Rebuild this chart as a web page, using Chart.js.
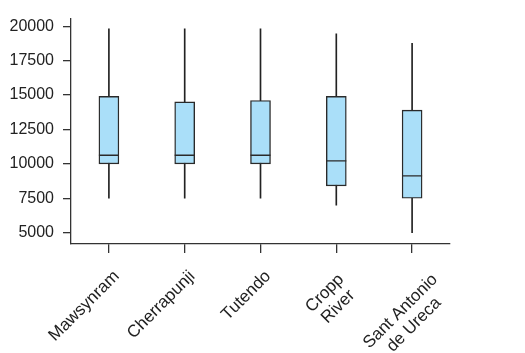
<!DOCTYPE html>
<html>
<head>
<meta charset="utf-8">
<script src="https://cdn.jsdelivr.net/npm/chart.js@4.4.1/dist/chart.umd.min.js"></script>
<style>
  html, body { margin: 0; padding: 0; background: #fff; }
  #wrap { width: 525px; height: 353px; }
</style>
</head>
<body>
<div id="wrap"><canvas id="c" width="525" height="353"></canvas></div>
<script>
const categories = ["Mawsynram", "Cherrapunji", "Tutendo", ["Cropp", "River"], ["Sant Antonio", "de Ureca"]];
const whiskerLow  = [7500, 7500, 7500, 7000, 5000];
const quartile1   = [10000, 10000, 10000, 8400, 7500];
const medians     = [10630, 10630, 10630, 10220, 9130];
const quartile3   = [14900, 14500, 14600, 14900, 13900];
const whiskerHigh = [19800, 19800, 19800, 19450, 18750];
const yTicks = [5000, 7500, 10000, 12500, 15000, 17500, 20000];

const ink = '#222';
const yFont = { family: 'Liberation Sans, Arial, sans-serif', size: 16 };

// Rotated category labels (multi-line labels centred, as in the reference)
const xLabelPlugin = {
  id: 'xlabels',
  afterDraw(chart) {
    const ctx = chart.ctx;
    const xs = chart.scales.x;
    const axisY = xs.top;
    const lh = 19, xh = 8.8, a = Math.SQRT1_2;
    ctx.save();
    ctx.font = '17px "Liberation Sans", Arial, sans-serif';
    ctx.fillStyle = ink;
    chart.data.labels.forEach((lab, i) => {
      const tx = xs.getPixelForValue(i);
      const lines = Array.isArray(lab) ? lab : [lab];
      ctx.save();
      if (lines.length === 1) {
        ctx.translate(tx + 11, axisY + 33);
        ctx.rotate(-Math.PI / 4);
        ctx.textAlign = 'right';
        ctx.textBaseline = 'alphabetic';
        ctx.fillText(lines[0], 0, 0);
      } else {
        const W = Math.max(...lines.map(l => ctx.measureText(l).width));
        const H = lines.length * lh;
        const trx = tx - 1 - a * (H - W) / 2;
        const try_ = axisY + 30;
        ctx.translate(trx, try_);
        ctx.rotate(-Math.PI / 4);
        ctx.textAlign = 'center';
        ctx.textBaseline = 'alphabetic';
        lines.forEach((l, j) => ctx.fillText(l, -W / 2, xh + j * lh));
      }
      ctx.restore();
    });
    ctx.restore();
  }
};

new Chart(document.getElementById('c'), {
  type: 'bar',
  data: {
    labels: categories,
    datasets: [
      {
        label: 'whiskers',
        data: whiskerLow.map((v, i) => [v, whiskerHigh[i]]),
        backgroundColor: ink,
        barThickness: 1,
        grouped: false,
        order: 3
      },
      {
        label: 'box',
        data: quartile1.map((v, i) => [v, quartile3[i]]),
        backgroundColor: '#aadff9',
        borderColor: '#2a2a2a',
        borderWidth: 1.4,
        borderSkipped: false,
        barThickness: 20,
        grouped: false,
        order: 2
      },
      {
        type: 'line',
        label: 'median',
        data: medians,
        showLine: false,
        pointStyle: 'line',
        pointRadius: 10,
        pointHoverRadius: 10,
        borderColor: '#2a2a2a',
        borderWidth: 1.4,
        order: 1
      }
    ]
  },
  options: {
    responsive: false,
    animation: false,
    events: [],
    layout: { padding: { top: 4, right: 75, left: 0, bottom: 0 } },
    plugins: { legend: { display: false }, tooltip: { enabled: false } },
    scales: {
      x: {
        offset: true,
        grid: { display: true, drawOnChartArea: false, drawTicks: true, tickLength: 9, offset: false, color: '#333', lineWidth: 1.3 },
        border: { display: true, color: '#333', width: 1.3 },
        ticks: { display: false },
        afterFit: (s) => { s.height = 109; }
      },
      y: {
        min: 4180,
        max: 20550,
        grid: { display: true, drawOnChartArea: false, drawTicks: true, tickLength: 8, color: '#333', lineWidth: 1.3 },
        border: { display: true, color: '#333', width: 1.3 },
        ticks: { color: ink, font: yFont, padding: 9, callback: (v) => String(v) },
        afterBuildTicks: (s) => { s.ticks = yTicks.map(v => ({ value: v })); },
        afterFit: (s) => { s.width = 71; }
      }
    }
  },
  plugins: [xLabelPlugin]
});
</script>
</body>
</html>
